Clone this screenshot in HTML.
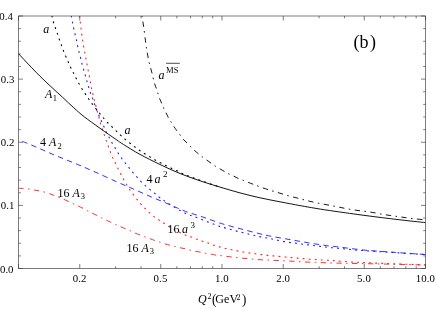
<!DOCTYPE html>
<html><head><meta charset="utf-8"><style>
html,body{margin:0;padding:0;background:#fff}
body{width:436px;height:309px;position:relative;overflow:hidden;font-family:"Liberation Serif",serif;color:#000}
.t{position:absolute;line-height:0;white-space:nowrap}
.t.c{transform:translateX(-50%)}
.t.r{text-align:right}
sup,sub{position:relative;vertical-align:baseline;line-height:0}
sub{font-size:9px;top:2px}
.p{display:inline-block;transform:scaleY(1.15)}
</style></head><body>
<svg width="436" height="309" viewBox="0 0 436 309" style="position:absolute;left:0;top:0;will-change:transform">
<defs><clipPath id="c"><rect x="18.5" y="16.0" width="407.0" height="252.5"/></clipPath></defs>
<g clip-path="url(#c)" fill="none" stroke-width="0.92">
<path d="M18.4 188.3C19.3 188.3 22.0 188.4 23.7 188.5C25.4 188.6 27.1 188.8 28.8 189.1C30.5 189.3 32.2 189.7 34.0 190.0C35.8 190.3 37.6 190.6 39.3 190.9C41.0 191.2 42.4 191.6 44.1 192.0C45.8 192.4 47.7 193.0 49.4 193.6C51.1 194.2 52.9 195.0 54.5 195.6C56.1 196.2 57.5 196.7 59.0 197.3C60.5 197.9 62.1 198.6 63.8 199.3C65.5 200.0 67.4 200.9 69.0 201.7C70.6 202.4 72.0 203.1 73.5 203.8C75.0 204.5 76.2 205.0 77.8 205.8C79.4 206.6 81.7 207.7 83.3 208.5C84.9 209.3 86.1 210.1 87.6 210.9C89.1 211.7 90.5 212.4 92.1 213.2C93.7 214.0 95.6 214.8 97.2 215.6C98.8 216.4 100.2 217.2 101.7 218.0C103.2 218.8 104.6 219.3 106.2 220.1C107.8 220.8 109.7 221.8 111.3 222.5C112.9 223.2 114.3 223.9 115.8 224.6C117.3 225.3 118.4 225.8 120.1 226.5C121.8 227.2 124.1 228.2 125.8 228.9C127.5 229.6 128.8 230.1 130.3 230.8C131.8 231.5 132.9 232.2 134.6 232.9C136.2 233.6 138.5 234.4 140.2 235.0C141.9 235.6 143.1 236.1 144.6 236.7C146.1 237.3 147.6 237.9 149.3 238.5C151.0 239.1 153.1 239.9 154.8 240.5C156.5 241.1 158.1 241.6 159.7 242.1C161.3 242.6 162.7 243.2 164.4 243.7C166.2 244.2 168.5 244.9 170.2 245.3C171.9 245.8 173.2 246.0 174.8 246.4C176.4 246.8 178.1 247.3 179.8 247.7C181.6 248.1 183.6 248.4 185.3 248.8C187.0 249.2 188.5 249.7 190.1 250.1C191.7 250.5 193.1 250.8 194.9 251.2C196.7 251.5 198.9 251.8 200.7 252.2C202.5 252.5 203.8 253.0 205.5 253.3C207.2 253.6 209.0 253.8 210.8 254.1C212.6 254.4 214.7 254.9 216.4 255.2C218.1 255.5 218.6 255.4 221.2 255.7C223.8 256.0 228.3 256.6 231.7 257.0C235.0 257.4 237.9 257.8 241.3 258.1C244.7 258.5 248.6 258.8 252.2 259.1C255.8 259.4 259.5 259.7 263.0 259.9C266.5 260.1 269.7 260.1 273.2 260.3C276.7 260.5 280.6 260.6 284.1 260.8C287.6 261.0 291.0 261.1 294.4 261.3C297.8 261.5 300.7 261.8 304.2 262.0C307.7 262.2 311.7 262.2 315.3 262.3C318.9 262.4 322.4 262.7 325.9 262.8C329.3 262.9 325.8 262.9 336.0 263.1C346.2 263.3 372.0 263.8 386.9 264.1C401.8 264.4 419.1 264.9 425.5 265.1" stroke="#ff2020" stroke-dasharray="5.4 4.38 1.6 4.38" stroke-dashoffset="0.16"/>
<path d="M18.5 139.9C19.1 140.1 20.6 140.7 22.1 141.3C23.6 141.9 24.9 142.3 27.3 143.3C29.7 144.3 33.7 146.0 36.7 147.3C39.8 148.6 42.6 149.9 45.6 151.2C48.6 152.5 51.6 153.9 54.5 155.1C57.4 156.3 60.2 157.4 63.2 158.6C66.2 159.8 69.3 161.1 72.3 162.3C75.3 163.5 77.1 164.2 81.1 165.9C85.0 167.6 90.1 169.8 96.0 172.4C101.9 175.0 110.1 178.9 116.4 181.7C122.7 184.5 127.9 186.6 133.8 189.2C139.7 191.8 145.9 194.6 151.7 197.1C157.5 199.6 162.9 201.7 168.5 204.1C174.1 206.5 179.7 209.2 185.4 211.3C191.1 213.5 196.8 215.0 202.8 217.0C208.8 219.0 215.0 221.5 221.3 223.5C227.6 225.5 234.2 227.1 240.5 228.8C246.8 230.5 253.8 232.3 259.0 233.6C264.2 234.9 266.6 235.4 271.8 236.4C277.0 237.4 283.8 238.5 290.0 239.6C296.2 240.7 302.9 241.9 309.3 243.0C315.7 244.1 323.8 245.2 328.6 245.9C333.4 246.6 332.4 246.2 338.2 246.9C344.0 247.6 354.0 249.1 363.5 250.0C373.0 250.9 384.8 251.7 395.1 252.4C405.4 253.2 420.4 254.2 425.5 254.5" stroke="#1f1fff" stroke-dasharray="5.4 4.29" stroke-dashoffset="5.54"/>
<path d="M78.9 10.5C79.0 11.5 79.4 14.5 79.6 16.5C79.8 18.5 80.1 20.5 80.3 22.5C80.5 24.5 80.8 26.3 81.0 28.3C81.2 30.3 81.5 32.4 81.8 34.4C82.1 36.4 82.3 38.1 82.6 40.1C82.9 42.1 83.2 44.3 83.6 46.3C83.9 48.3 84.3 50.3 84.7 52.3C85.1 54.3 85.5 56.5 85.9 58.5C86.3 60.5 86.6 62.4 87.0 64.4C87.4 66.4 87.8 68.5 88.2 70.4C88.6 72.4 88.9 74.1 89.3 76.1C89.7 78.1 90.0 80.3 90.4 82.3C90.8 84.3 91.0 86.2 91.5 88.2C91.9 90.2 92.4 92.2 92.9 94.2C93.4 96.2 93.8 98.1 94.3 100.1C94.8 102.0 95.4 104.0 95.9 105.9C96.4 107.8 96.8 109.8 97.3 111.7C97.8 113.7 98.5 115.6 99.0 117.6C99.5 119.6 100.0 121.6 100.5 123.5C101.0 125.4 101.7 127.1 102.3 129.0C102.9 130.9 103.6 132.9 104.3 134.9C105.0 136.9 105.6 139.0 106.3 140.9C107.0 142.8 107.7 144.7 108.4 146.6C109.1 148.5 109.7 150.2 110.4 152.1C111.1 154.0 112.0 156.1 112.8 157.9C113.6 159.7 114.5 161.3 115.3 163.0C116.1 164.7 116.7 166.1 117.7 167.9C118.6 169.7 119.8 172.1 120.8 174.0C121.8 175.9 122.5 177.6 123.5 179.3C124.5 181.1 125.5 182.8 126.5 184.5C127.5 186.2 128.6 187.9 129.7 189.6C130.8 191.2 132.0 192.8 133.2 194.4C134.3 196.0 135.6 197.6 136.8 199.2C138.1 200.8 139.5 202.5 140.9 204.1C142.3 205.7 143.8 207.1 145.2 208.6C146.6 210.1 148.1 211.5 149.6 212.9C151.1 214.3 152.8 215.7 154.4 216.9C156.0 218.1 157.6 219.0 159.2 220.1C160.8 221.2 161.5 221.7 164.0 223.3C166.5 224.9 170.6 227.7 174.2 229.6C177.8 231.5 182.6 233.8 185.3 235.0C188.0 236.2 188.8 236.2 190.6 236.8C192.4 237.5 194.3 238.2 196.2 238.9C198.1 239.6 199.9 240.2 201.8 240.9C203.7 241.6 205.5 242.1 207.5 242.8C209.5 243.5 211.7 244.6 213.7 245.3C215.7 246.0 217.6 246.4 219.6 246.9C221.6 247.4 223.6 248.0 225.6 248.5C227.6 249.0 229.8 249.4 231.7 249.8C233.6 250.2 235.4 250.5 237.3 250.9C239.2 251.3 241.2 251.7 243.2 252.0C245.2 252.3 247.3 252.7 249.3 253.0C251.3 253.3 253.4 253.5 255.4 253.8C257.4 254.1 259.4 254.3 261.4 254.6C263.4 254.9 265.3 255.2 267.3 255.4C269.3 255.6 271.3 255.7 273.2 255.9C275.1 256.1 276.8 256.2 278.8 256.4C280.8 256.6 283.1 256.8 285.2 257.0C287.3 257.2 289.2 257.4 291.2 257.6C293.2 257.8 295.3 257.9 297.3 258.1C299.3 258.3 301.4 258.4 303.4 258.6C305.4 258.8 307.2 259.1 309.3 259.2C311.4 259.3 313.7 259.4 315.7 259.5C317.7 259.6 319.4 259.9 321.4 260.0C323.4 260.1 325.5 260.2 327.5 260.3C329.5 260.4 331.3 260.5 333.4 260.6C335.5 260.8 337.2 261.0 340.1 261.2C343.1 261.4 347.2 261.8 351.1 262.0C355.0 262.2 359.4 262.3 363.5 262.5C367.6 262.7 370.8 262.9 375.9 263.1C380.9 263.3 385.5 263.5 393.8 263.8C402.1 264.1 420.2 264.7 425.5 264.9" stroke="#ff2020" stroke-dasharray="1.9 4.16" stroke-dashoffset="0.91" stroke-width="1.1"/>
<path d="M70.3 10.5C70.5 11.5 71.0 14.5 71.4 16.5C71.8 18.5 72.1 20.5 72.5 22.5C72.9 24.5 73.3 26.3 73.7 28.3C74.1 30.3 74.6 32.4 75.1 34.4C75.6 36.4 76.1 38.2 76.5 40.1C76.9 42.0 77.2 44.0 77.6 46.0C78.0 48.0 78.5 50.0 79.0 52.0C79.5 54.0 80.1 56.0 80.6 58.0C81.1 60.0 81.5 61.8 82.0 63.8C82.5 65.8 83.2 68.0 83.7 69.9C84.2 71.8 84.8 73.5 85.3 75.4C85.8 77.3 86.5 79.5 87.0 81.4C87.5 83.3 88.0 85.0 88.6 86.9C89.2 88.8 89.8 90.9 90.4 92.8C91.1 94.7 91.8 96.4 92.5 98.3C93.2 100.2 93.9 102.3 94.6 104.2C95.3 106.1 95.9 107.8 96.6 109.7C97.3 111.6 98.2 113.6 99.0 115.5C99.8 117.4 100.6 119.1 101.4 121.0C102.2 122.9 103.1 124.9 104.0 126.8C104.8 128.6 105.4 130.4 106.3 132.2C107.2 134.0 108.3 135.9 109.3 137.7C110.3 139.5 111.2 141.4 112.2 143.2C113.2 145.0 114.3 146.6 115.3 148.3C116.3 150.0 117.3 151.8 118.4 153.5C119.5 155.2 120.8 157.0 121.9 158.6C123.1 160.2 124.1 161.5 125.3 163.0C126.5 164.5 127.7 166.0 129.0 167.6C130.3 169.2 131.6 171.1 132.9 172.7C134.2 174.3 135.6 175.7 137.0 177.2C138.4 178.7 139.7 180.3 141.1 181.7C142.5 183.1 144.0 184.5 145.5 185.8C147.0 187.1 148.5 188.3 150.1 189.6C151.7 190.9 153.3 192.2 154.9 193.5C156.5 194.8 158.1 196.4 159.7 197.6C161.3 198.8 161.9 199.2 164.5 200.9C167.1 202.6 171.4 205.5 175.0 207.6C178.6 209.7 182.6 212.0 186.2 213.7C189.8 215.3 191.9 215.7 196.5 217.5C201.1 219.3 209.3 222.6 214.0 224.3C218.7 226.0 221.2 226.8 224.9 227.9C228.7 229.0 232.6 230.1 236.5 231.1C240.4 232.1 244.5 233.0 248.5 234.0C252.5 235.0 256.7 236.1 260.6 236.9C264.6 237.7 268.3 238.2 272.2 239.0C276.1 239.8 280.1 240.9 284.1 241.6C288.1 242.3 292.2 242.8 296.2 243.3C300.2 243.9 304.2 244.4 308.2 244.9C312.2 245.4 316.2 245.9 320.1 246.4C324.0 246.9 327.7 247.3 331.8 247.7C335.9 248.1 339.7 248.5 345.0 249.0C350.3 249.5 355.1 250.0 363.5 250.6C371.9 251.2 384.8 251.9 395.1 252.6C405.4 253.3 420.4 254.3 425.5 254.6" stroke="#1f1fff" stroke-dasharray="1.9 4.16" stroke-dashoffset="0.91" stroke-width="1.1"/>
<path d="M50.7 10.5C50.9 11.5 51.6 14.5 52.1 16.5C52.6 18.5 52.9 20.6 53.5 22.5C54.1 24.4 54.8 26.3 55.5 28.2C56.2 30.1 56.9 32.0 57.5 33.9C58.1 35.8 58.7 37.8 59.4 39.7C60.1 41.6 60.8 43.5 61.5 45.4C62.2 47.3 62.8 49.0 63.5 50.9C64.2 52.8 65.0 54.6 65.8 56.5C66.6 58.4 67.5 60.2 68.3 62.1C69.1 64.0 69.8 65.8 70.7 67.6C71.6 69.4 72.6 71.3 73.5 73.1C74.4 74.9 75.3 76.8 76.2 78.6C77.1 80.4 78.0 82.0 79.0 83.7C80.0 85.4 81.0 87.3 82.1 89.0C83.2 90.7 84.3 92.2 85.4 93.9C86.5 95.6 87.6 97.3 88.7 99.0C89.8 100.7 91.0 102.2 92.2 103.8C93.4 105.4 94.7 107.0 95.9 108.6C97.2 110.2 98.4 111.8 99.7 113.4C101.0 115.0 102.2 116.5 103.5 118.0C104.8 119.5 106.2 121.2 107.6 122.7C109.0 124.2 110.5 125.4 112.0 126.8C113.5 128.2 114.9 129.8 116.4 131.2C117.9 132.6 119.3 134.1 120.8 135.4C122.3 136.8 123.7 138.0 125.2 139.3C126.7 140.6 128.4 141.9 130.0 143.2C131.6 144.5 133.2 145.7 134.8 146.9C136.4 148.1 138.0 149.4 139.7 150.5C141.3 151.6 143.0 152.6 144.7 153.7C146.4 154.8 148.2 155.9 149.9 156.9C151.6 157.9 153.3 158.9 155.1 159.9C156.8 160.9 158.6 161.9 160.4 162.8C162.2 163.7 163.9 164.6 165.7 165.5C167.5 166.4 169.2 167.2 171.0 168.1C172.8 168.9 174.7 169.8 176.5 170.6C178.3 171.4 179.9 172.3 181.8 173.2C183.7 174.0 185.8 174.9 187.8 175.7C189.8 176.5 191.9 177.2 193.8 177.9C195.7 178.6 197.5 179.2 199.3 179.9C201.1 180.6 202.9 181.2 204.8 181.9C206.7 182.6 208.6 183.2 210.5 183.9C212.4 184.6 214.3 185.2 216.2 185.8C218.1 186.4 221.0 187.3 222.0 187.6" stroke="#000" stroke-dasharray="1.9 4.16" stroke-dashoffset="0.91" stroke-width="1.1"/>
<path d="M141.5 10.5C141.6 11.5 141.7 13.6 142.1 16.5C142.5 19.4 143.2 23.4 143.8 27.8C144.4 32.2 145.2 39.1 145.8 43.2C146.4 47.3 146.6 49.2 147.2 52.5C147.8 55.8 148.5 59.6 149.3 63.1C150.1 66.6 151.3 70.1 152.1 73.4C152.9 76.7 153.6 80.2 154.3 82.7C155.0 85.2 155.8 86.8 156.4 88.5C157.0 90.2 157.2 91.4 157.7 92.9C158.2 94.4 158.6 95.9 159.3 97.7C160.0 99.5 161.1 101.9 161.8 103.6C162.5 105.3 162.9 106.5 163.6 108.0C164.3 109.5 165.1 110.8 165.9 112.5C166.8 114.2 167.8 116.7 168.7 118.3C169.6 119.9 170.5 121.0 171.3 122.3C172.1 123.6 172.8 124.9 173.7 126.3C174.6 127.7 175.9 129.4 177.0 130.9C178.1 132.4 179.2 133.7 180.2 135.1C181.2 136.5 182.0 137.8 183.2 139.2C184.4 140.6 186.0 142.0 187.3 143.3C188.6 144.6 189.7 145.7 190.8 146.8C192.0 148.0 192.8 148.9 194.2 150.2C195.6 151.4 197.7 153.2 199.0 154.3C200.3 155.4 201.1 156.0 202.3 156.9C203.5 157.8 204.7 158.6 206.2 159.7C207.7 160.8 209.8 162.2 211.3 163.3C212.8 164.4 214.0 165.3 215.4 166.2C216.8 167.1 217.8 167.6 219.5 168.6C221.2 169.6 223.8 171.1 225.4 172.0C227.0 172.9 227.8 173.4 229.2 174.1C230.6 174.8 232.0 175.3 233.7 176.1C235.4 176.9 237.5 178.2 239.2 178.9C240.9 179.6 242.2 179.9 243.7 180.5C245.2 181.1 246.4 181.7 248.1 182.3C249.8 183.0 251.9 183.8 253.6 184.4C255.3 185.1 255.8 185.3 258.2 186.2C260.6 187.1 264.8 188.5 268.0 189.6C271.2 190.7 274.3 191.5 277.7 192.5C281.1 193.5 284.6 194.7 288.1 195.7C291.7 196.7 295.6 197.6 299.0 198.5C302.4 199.4 304.9 200.1 308.2 200.9C311.5 201.7 315.3 202.6 318.9 203.3C322.5 204.0 326.3 204.7 329.7 205.3C333.1 206.0 335.9 206.5 339.3 207.2C342.7 207.9 346.5 208.7 350.1 209.3C353.7 209.9 357.7 210.5 361.0 210.9C364.3 211.3 366.7 211.5 370.0 212.0C373.3 212.5 377.3 213.4 380.8 214.0C384.3 214.6 387.5 215.1 390.9 215.6C394.3 216.1 397.5 216.5 401.0 217.0C404.5 217.5 408.0 218.0 412.1 218.5C416.2 219.0 423.3 219.7 425.5 219.9" stroke="#000" stroke-dasharray="5.4 4.38 1.6 4.38" stroke-dashoffset="4.61"/>
<path d="M17.5 52.7C17.6 52.8 15.2 50.2 18.3 53.5C21.4 56.8 30.8 66.9 36.0 72.2C41.2 77.5 44.9 80.9 49.3 85.1C53.7 89.3 58.5 93.5 62.6 97.3C66.7 101.1 70.2 104.6 73.8 107.8C77.4 111.0 79.6 113.2 84.0 116.6C88.4 120.0 94.7 124.5 100.0 128.3C105.3 132.1 112.2 136.8 116.1 139.5C120.0 142.2 119.5 142.0 123.5 144.5C127.5 147.0 133.9 151.1 140.0 154.4C146.1 157.7 153.3 161.3 160.0 164.5C166.7 167.7 173.3 170.8 180.0 173.5C186.7 176.2 193.3 178.5 200.0 180.8C206.7 183.1 213.3 185.1 220.0 187.1C226.7 189.1 233.3 191.1 240.0 192.9C246.7 194.7 253.3 196.3 260.0 197.8C266.7 199.3 273.3 200.5 280.0 201.8C286.7 203.1 294.0 204.5 300.0 205.6C306.0 206.7 310.2 207.4 316.0 208.4C321.8 209.4 326.7 210.1 335.0 211.3C343.3 212.5 355.5 214.2 366.0 215.6C376.5 217.0 388.2 218.4 398.1 219.6C408.0 220.8 420.9 222.1 425.5 222.6" stroke="#000"/>
</g>
<g stroke="#383838" stroke-width="0.65" fill="none">
<rect x="18.5" y="16.0" width="407.0" height="252.5"/>
<path d="M18.50 268.5v-4.5M18.50 16.0v4.5M79.76 268.5v-4.5M79.76 16.0v4.5M115.59 268.5v-2.3M115.59 16.0v2.3M141.02 268.5v-2.3M141.02 16.0v2.3M160.74 268.5v-4.5M160.74 16.0v4.5M176.85 268.5v-2.3M176.85 16.0v2.3M190.48 268.5v-2.3M190.48 16.0v2.3M202.28 268.5v-2.3M202.28 16.0v2.3M212.69 268.5v-2.3M212.69 16.0v2.3M222.00 268.5v-4.5M222.00 16.0v4.5M283.26 268.5v-4.5M283.26 16.0v4.5M319.09 268.5v-2.3M319.09 16.0v2.3M344.52 268.5v-2.3M344.52 16.0v2.3M364.24 268.5v-4.5M364.24 16.0v4.5M380.35 268.5v-2.3M380.35 16.0v2.3M393.98 268.5v-2.3M393.98 16.0v2.3M405.78 268.5v-2.3M405.78 16.0v2.3M416.19 268.5v-2.3M416.19 16.0v2.3M425.50 268.5v-4.5M425.50 16.0v4.5M18.5 268.50h4.5M425.5 268.50h-4.5M18.5 255.88h2.3M425.5 255.88h-2.3M18.5 243.25h2.3M425.5 243.25h-2.3M18.5 230.62h2.3M425.5 230.62h-2.3M18.5 218.00h2.3M425.5 218.00h-2.3M18.5 205.38h4.5M425.5 205.38h-4.5M18.5 192.75h2.3M425.5 192.75h-2.3M18.5 180.12h2.3M425.5 180.12h-2.3M18.5 167.50h2.3M425.5 167.50h-2.3M18.5 154.88h2.3M425.5 154.88h-2.3M18.5 142.25h4.5M425.5 142.25h-4.5M18.5 129.63h2.3M425.5 129.63h-2.3M18.5 117.00h2.3M425.5 117.00h-2.3M18.5 104.38h2.3M425.5 104.38h-2.3M18.5 91.75h2.3M425.5 91.75h-2.3M18.5 79.12h4.5M425.5 79.12h-4.5M18.5 66.50h2.3M425.5 66.50h-2.3M18.5 53.88h2.3M425.5 53.88h-2.3M18.5 41.25h2.3M425.5 41.25h-2.3M18.5 28.62h2.3M425.5 28.62h-2.3M18.5 16.00h4.5M425.5 16.00h-4.5"/>
</g>
<path d="M166.1 63.3H179.8" stroke="#000" stroke-width="0.7"/>
<g font-family="Liberation Serif, serif" fill="#000">
<text x="12.8" y="19.9" font-size="10.8" text-anchor="end" >0.4</text>
<text x="14.3" y="83.0" font-size="10.8" text-anchor="end" >0.3</text>
<text x="14.3" y="146.1" font-size="10.8" text-anchor="end" >0.2</text>
<text x="14.3" y="209.3" font-size="10.8" text-anchor="end" >0.1</text>
<text x="13.5" y="272.8" font-size="10.8" text-anchor="end" >0.0</text>
<text x="79.6" y="282" font-size="10.8" text-anchor="middle" letter-spacing="0.1">0.2</text>
<text x="160.5" y="282" font-size="10.8" text-anchor="middle" letter-spacing="0.1">0.5</text>
<text x="221.8" y="282" font-size="10.8" text-anchor="middle" letter-spacing="0.1">1.0</text>
<text x="283.1" y="282" font-size="10.8" text-anchor="middle" letter-spacing="0.1">2.0</text>
<text x="364.0" y="282" font-size="10.8" text-anchor="middle" letter-spacing="0.1">5.0</text>
<text x="425.3" y="282" font-size="10.8" text-anchor="middle" letter-spacing="0.1">10.0</text>
<text x="353.4" y="47.5" font-size="18" text-anchor="start" >(b<tspan dx="1.5">)</tspan></text>
<text x="198.1" y="303.2" font-size="12" text-anchor="start" ><tspan font-style="italic">Q</tspan></text>
<text x="207.4" y="298.7" font-size="8" text-anchor="start" >2</text>
<text x="211.9" y="303.6" font-size="14.5" text-anchor="start" transform="translate(211.9 0) scale(0.9 1) translate(-211.9 0)">(</text>
<text x="215.3" y="303.2" font-size="12" text-anchor="start" >Ge</text>
<text x="229.6" y="303.2" font-size="12" text-anchor="start" >V</text>
<text x="236.5" y="299.8" font-size="8" text-anchor="start" >2</text>
<text x="242.1" y="303.6" font-size="14.5" text-anchor="start" transform="translate(242.1 0) scale(0.9 1) translate(-242.1 0)">)</text>
<text x="43.3" y="32.7" font-size="12" text-anchor="start" ><tspan font-style="italic">a</tspan></text>
<text x="44.9" y="98.2" font-size="12" text-anchor="start" ><tspan font-style="italic">A</tspan><tspan dy="2.3" dx="0.6" font-size="8.5">1</tspan><tspan dy="-2.3" font-size="1">&#8203;</tspan></text>
<text x="124.5" y="133.9" font-size="12" text-anchor="start" ><tspan font-style="italic">a</tspan></text>
<text x="158.5" y="78.8" font-size="12" text-anchor="start" ><tspan font-style="italic">a</tspan></text>
<text x="166.1" y="73.2" font-size="8.6" text-anchor="start" >MS</text>
<text x="40" y="146" font-size="12" text-anchor="start" >4 <tspan font-style="italic">A</tspan><tspan dy="2.6" dx="1.2" font-size="8.5">2</tspan><tspan dy="-2.6" font-size="1">&#8203;</tspan></text>
<text x="57.4" y="197" font-size="12" text-anchor="start" >16 <tspan font-style="italic">A</tspan><tspan dy="2.3" dx="1" font-size="8.5">3</tspan><tspan dy="-2.3" font-size="1">&#8203;</tspan></text>
<text x="126.6" y="252.4" font-size="12" text-anchor="start" >16 <tspan font-style="italic">A</tspan><tspan dy="1.9" dx="0.8" font-size="8.5">3</tspan><tspan dy="-1.9" font-size="1">&#8203;</tspan></text>
<text x="146.4" y="183" font-size="12" text-anchor="start" >4 <tspan dx="-0.9" font-style="italic">a</tspan><tspan dy="-5.8" dx="2.5" font-size="9">2</tspan><tspan dy="5.8" font-size="1">&#8203;</tspan></text>
<text x="167.4" y="233.4" font-size="12" text-anchor="start" >16 <tspan dx="-0.5" font-style="italic">a</tspan><tspan dy="-5.6" dx="2.5" font-size="9">3</tspan><tspan dy="5.6" font-size="1">&#8203;</tspan></text>
</g>
</svg>
</body></html>
